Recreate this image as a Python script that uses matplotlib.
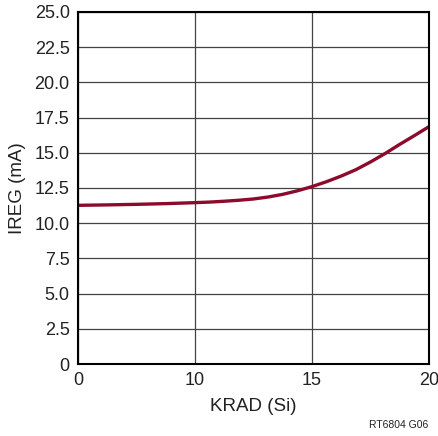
import matplotlib
matplotlib.use("Agg")
import matplotlib.pyplot as plt
import numpy as np
from matplotlib import font_manager

names = {f.name for f in font_manager.fontManager.ttflist}
fam = 'Liberation Sans Narrow' if 'Liberation Sans Narrow' in names else 'Liberation Sans'
plt.rcParams['font.family'] = [fam, 'DejaVu Sans']

krad = [0, 2.5, 5, 7.5, 10, 10.625, 11.25, 11.875, 12.5, 13.125, 13.75, 14.375,
        15, 15.625, 16.25, 16.875, 17.5, 18.125, 18.75, 19.375, 20]
ireg = [11.27, 11.3, 11.34, 11.39, 11.46, 11.5, 11.56, 11.63, 11.72, 11.86, 12.05, 12.3,
        12.6, 12.95, 13.35, 13.8, 14.35, 14.95, 15.6, 16.22, 16.86]
xticks = [0, 10, 15, 20]
yticks = [0, 2.5, 5, 7.5, 10, 12.5, 15, 17.5, 20, 22.5, 25]
ylabels = ['0', '2.5', '5.0', '7.5', '10.0', '12.5', '15.0', '17.5', '20.0', '22.5', '25.0']

tick_pos = [0, 1, 2, 3]

def fwd(x):
    return np.interp(x, xticks, tick_pos)

def inv(p):
    return np.interp(p, tick_pos, xticks)

fig = plt.figure(figsize=(4.38, 4.36), dpi=100)
ax = fig.add_axes([78/438, 1-364/436, (429-78)/438, (364-12)/436])
ax.set_xscale('function', functions=(fwd, inv))
ax.plot(krad, ireg, color='#8c0a2c', lw=2.4, solid_capstyle='butt', solid_joinstyle='round')
ax.set_xlim(0, 20)
ax.set_ylim(0, 25)
ax.set_xticks(xticks)
ax.set_xticklabels([str(t) for t in xticks])
ax.set_yticks(yticks)
ax.set_yticklabels(ylabels)
ax.minorticks_off()
ax.grid(True, color='#444444', lw=0.9)
ax.set_axisbelow(True)
for s in ax.spines.values():
    s.set_linewidth(1.5)
    s.set_color('black')
ax.tick_params(length=0, labelsize=13, pad=6, colors='#222222')
ax.set_xlabel('KRAD (Si)', fontsize=13.5, color='#222222', labelpad=6)
ax.set_ylabel('IREG (mA)', fontsize=13.5, color='#222222', labelpad=6)
fig.text(428/438, 1-425/436, 'RT6804 G06', fontsize=7.5, ha='right', va='center', color='#222222')
fig.savefig('out.png', dpi=100)
